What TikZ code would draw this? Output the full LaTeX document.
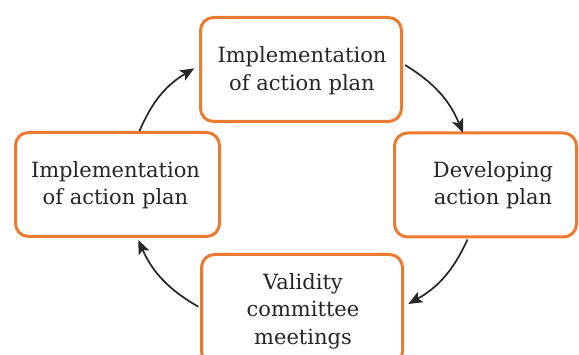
\documentclass[tikz,border=0pt]{standalone}
\usepackage{fontspec}
\setmainfont{DejaVu Serif}
\usetikzlibrary{arrows.meta,calc}
\definecolor{boxorange}{HTML}{EC7A30}
\definecolor{inkgray}{HTML}{262626}
\begin{document}
\begin{tikzpicture}[x=1pt,y=1pt,
  stagebox/.style={draw=boxorange, line width=3pt, rounded corners=13pt, fill=white,
    minimum width=#1, minimum height=104pt, inner sep=0pt},
  stagetext/.style={align=center, text=inkgray, inner sep=0pt,
    font=\fontsize{21}{27.5}\selectfont},
  flow/.style={draw=inkgray, line width=1.7pt,
    -{Stealth[length=14pt,width=11.5pt,inset=3pt]}, bend left=18}
]
\useasboundingbox (0,0) rectangle (579,354);
\fill[white] (0,0) rectangle (579,354);
\clip (0,0) rectangle (579,354);

% the four stages of the cycle
\node[stagebox=201pt] (top) at (301,284.5) {};
\node[stagebox=204pt] (left) at (117.5,169.5) {};
\node[stagebox=182pt] (right) at (485.5,169) {};
\node[stagebox=201pt, minimum height=110pt] (bottom) at (302,44.5) {};

\node[stagetext] (toptext) at (302,283.5) {Implementation\\of action plan};
\node[stagetext] (lefttext) at (115.5,169) {Implementation\\of action plan};
\node[stagetext] (righttext) at (493,169) {Developing\\action plan};
\node[stagetext] (bottomtext) at (303,43) {Validity\\committee\\meetings};

% clockwise arrows between the stages
\draw[flow] ($(left.north)+(22,0)$) to ($(top.west)+(-4.7,1.2)$);
\draw[flow] ($(top.east)+(2,4.5)$) to ($(right.north)+(-22.5,-1.5)$);
\draw[flow] ($(right.south)+(-18,-1)$) to ($(bottom.east)+(4.3,5.5)$);
\draw[flow] ($(bottom.west)+(-1.7,2.8)$) to ($(left.south)+(20.8,-2)$);
\end{tikzpicture}
\end{document}
